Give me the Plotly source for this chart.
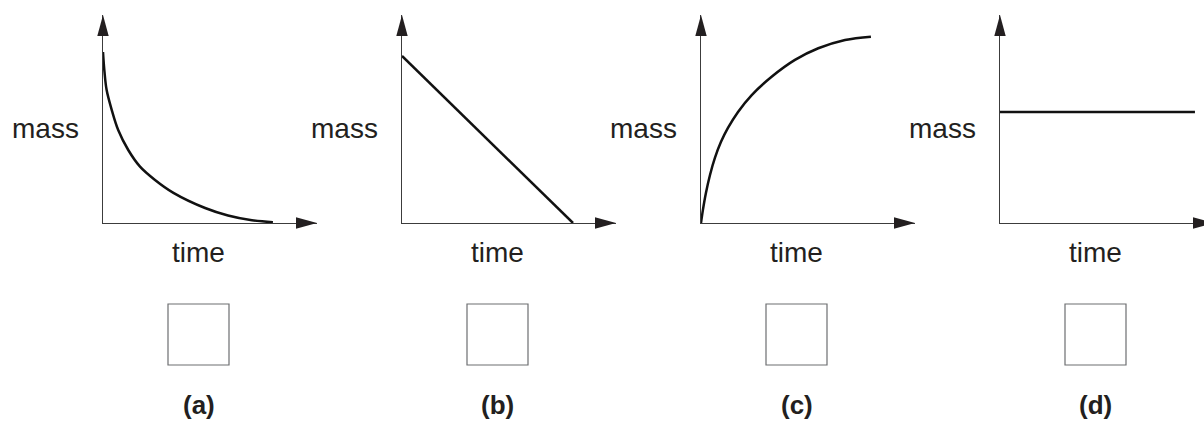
import plotly.graph_objects as go

# ---- data (time / mass in arbitrary units, 0..10 = axis length) ----
panel_labels = ["(a)", "(b)", "(c)", "(d)"]
x_title = "time"
y_title = "mass"

# (a) falls quickly, then levels off
time_a = [0, 0.07, 0.17, 0.41, 0.71, 1.18, 1.73, 2.43, 3.29, 4.77, 5.84, 6.96, 7.94]
mass_a = [8.22, 7.26, 6.39, 5.43, 4.47, 3.51, 2.71, 2.07, 1.45, 0.72, 0.36, 0.13, 0.04]
# (b) falls steadily to zero
time_b = [0, 7.99]
mass_b = [8.03, 0]
# (c) rises quickly, then levels off
time_c = [0, 0.09, 0.23, 0.42, 0.65, 0.93, 1.26, 1.73, 2.37, 3.30, 4.39, 5.48, 6.73, 7.94]
mass_c = [0, 0.63, 1.44, 2.31, 3.13, 3.89, 4.57, 5.34, 6.15, 7.03, 7.84, 8.40, 8.80, 8.96]
# (d) stays the same
time_d = [0, 9.11]
mass_d = [5.34, 5.34]

series = [(time_a, mass_a, "spline"), (time_b, mass_b, "linear"),
          (time_c, mass_c, "spline"), (time_d, mass_d, "linear")]

# ---- layout (pixels) ----
W, H = 1204, 421
ORIGINS_X = [103, 402, 701, 1000]
ORIGIN_Y = 223
TOP_Y = 15
AXIS_LEN = 214          # px from origin to arrow tip
HEAD_LEN, HEAD_HALF = 21, 5.7

INK = "#231f20"
AXIS_COLOR = "#3c3c3c"
FONT = "Liberation Sans, Arial, sans-serif"

fig = go.Figure()
shapes, annotations = [], []

for i, (tx, my, shape) in enumerate(series):
    n = "" if i == 0 else str(i + 1)
    x0 = ORIGINS_X[i]
    x1 = min(x0 + AXIS_LEN, W)
    dom_w = x1 - x0

    fig.add_trace(go.Scatter(
        x=tx, y=my, mode="lines",
        line=dict(color="#111111", width=2.5, shape=shape, smoothing=1),
        xaxis="x" + n, yaxis="y" + n,
        showlegend=False, hoverinfo="skip",
    ))

    axis_common = dict(showgrid=False, zeroline=False, showticklabels=False,
                       ticks="", showline=True, linecolor=AXIS_COLOR,
                       linewidth=1.4, fixedrange=True)
    fig.update_layout({
        "xaxis" + n: dict(domain=[x0 / W, x1 / W], range=[0, 10 * dom_w / AXIS_LEN],
                          anchor="y" + n, **axis_common),
        "yaxis" + n: dict(domain=[(H - ORIGIN_Y) / H, (H - TOP_Y) / H], range=[0, 10],
                          anchor="x" + n, **axis_common),
    })

    xd, yd = "x" + n + " domain", "y" + n + " domain"

    # arrow heads
    shapes.append(dict(type="path", xref=xd, yref=yd,
                       xsizemode="pixel", ysizemode="pixel",
                       xanchor=AXIS_LEN / dom_w, yanchor=0,
                       path=f"M0,0 L{-HEAD_LEN},{HEAD_HALF} L{-HEAD_LEN},{-HEAD_HALF} Z",
                       fillcolor=INK, line=dict(width=0)))
    shapes.append(dict(type="path", xref=xd, yref=yd,
                       xsizemode="pixel", ysizemode="pixel",
                       xanchor=0, yanchor=1,
                       path=f"M0,0 L{-HEAD_HALF},{-HEAD_LEN} L{HEAD_HALF},{-HEAD_LEN} Z",
                       fillcolor=INK, line=dict(width=0)))
    # tick box
    shapes.append(dict(type="rect", xref=xd, yref=yd,
                       xsizemode="pixel", ysizemode="pixel",
                       xanchor=0, yanchor=0, x0=65, x1=126, y0=-81, y1=-142,
                       line=dict(color="#6d6e71", width=1.2), fillcolor="rgba(0,0,0,0)"))

    annotations += [
        dict(text=y_title, xref=xd, yref=yd, x=0, y=0, xshift=-57.5, yshift=95,
             xanchor="center", yanchor="middle", showarrow=False,
             font=dict(size=28, color=INK, family=FONT)),
        dict(text=x_title, xref=xd, yref=yd, x=0, y=0, xshift=95.5, yshift=-29,
             xanchor="center", yanchor="middle", showarrow=False,
             font=dict(size=28, color=INK, family=FONT)),
        dict(text="<b>" + panel_labels[i] + "</b>", xref=xd, yref=yd, x=0, y=0,
             xshift=95.5, yshift=-182, xanchor="center", yanchor="middle",
             showarrow=False, font=dict(size=26, color=INK, family=FONT)),
    ]

fig.update_layout(
    width=W, height=H,
    margin=dict(l=0, r=0, t=0, b=0),
    paper_bgcolor="white", plot_bgcolor="white",
    shapes=shapes, annotations=annotations,
    showlegend=False,
)

# drop the browser's default body margin so the figure fills the window exactly
fig.write_html("out.html", config={"displayModeBar": False},
               post_script="document.body.style.margin='0';document.body.style.overflow='hidden';")
